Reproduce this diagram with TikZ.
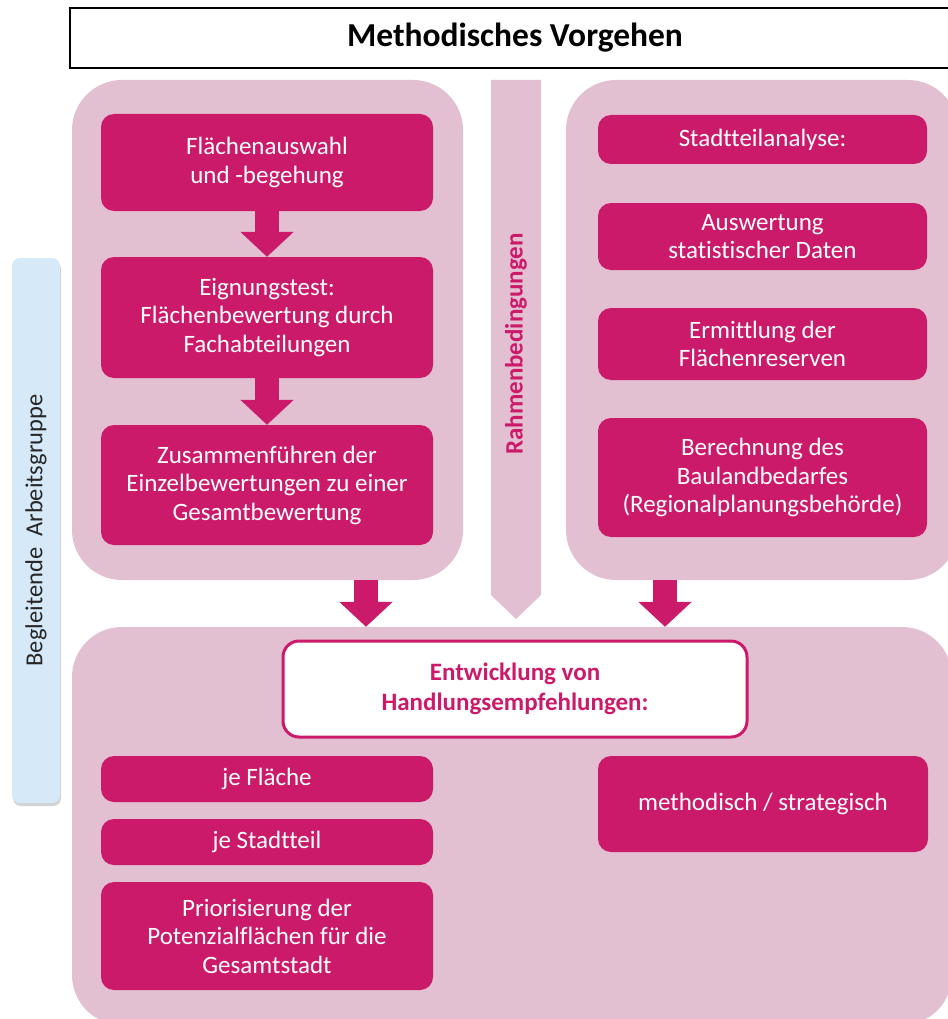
\documentclass[tikz,border=0pt]{standalone}
\usepackage{fontspec}
\setmainfont{Carlito}[Ligatures=NoCommon]
\usetikzlibrary{arrows.meta,shadows}

\definecolor{magentabox}{RGB}{204,26,106}
\definecolor{panelpink}{RGB}{226,192,209}
\definecolor{groupblue}{RGB}{214,233,248}

\begin{document}
\begin{tikzpicture}[x=1pt, y=-1pt,
    panel/.style={fill=panelpink, rounded corners=50pt, inner sep=0pt},
    stepbox/.style={fill=magentabox, text=white, rounded corners=13pt, align=center,
        inner sep=0pt, font=\fontsize{25}{28.5}\selectfont},
    blockarrow/.style={magentabox, line width=24pt, -{Triangle[length=25pt, width=52pt]}}]
  \useasboundingbox (0,0) rectangle (947,1019);

  % Title
  \node[draw=black, line width=1.6pt, minimum width=890pt, minimum height=60pt,
        font=\fontsize{33.5}{38}\selectfont\bfseries] (title) at (515,38) {Methodisches Vorgehen};

  % Panels
  \node[panel, minimum width=391pt, minimum height=500pt] (leftpanel) at (267.5,330) {};
  \node[panel, minimum width=392pt, minimum height=500pt] (rightpanel) at (762,330) {};
  \node[panel, minimum width=880pt, minimum height=398pt] (bottompanel) at (512,826) {};

  % Rahmenbedingungen
  \fill[panelpink] (491,80) -- (541,80) -- (541,595) -- (516,619) -- (491,595) -- cycle;
  \node[rotate=90, text=magentabox, font=\fontsize{25}{29}\selectfont\bfseries] (rahmen)
    at (516,344) {Rahmenbedingungen};

  % Begleitende Arbeitsgruppe
  \node[fill=groupblue, rounded corners=8pt, rotate=90, minimum width=545pt, minimum height=48pt,
        drop shadow={opacity=0.35, shadow xshift=1pt, shadow yshift=-3pt},
        text=black!85, font=\fontsize{24.5}{28}\selectfont] (gruppe)
    at (36,530.5) {Begleitende\ \ Arbeitsgruppe};

  % Left column
  \node[stepbox, minimum width=332pt, minimum height=97pt] (auswahl) at (267,162.5)
    {Flächenauswahl\\und -begehung};
  \node[stepbox, minimum width=332pt, minimum height=121pt] (eignung) at (267,317.5)
    {Eignungstest:\\Flächenbewertung durch\\Fachabteilungen};
  \node[stepbox, minimum width=332pt, minimum height=120pt] (zusammen) at (267,485)
    {Zusammenführen der\\Einzelbewertungen zu einer\\Gesamtbewertung};
  \draw[blockarrow] (auswahl) -- (eignung);
  \draw[blockarrow] (eignung) -- (zusammen);

  % Right column
  \node[stepbox, minimum width=329pt, minimum height=49pt] (stadtteil) at (762.5,139.5)
    {Stadtteilanalyse:};
  \node[stepbox, minimum width=329pt, minimum height=67pt] (statistik) at (762.5,236.5)
    {Auswertung\\statistischer Daten};
  \node[stepbox, minimum width=329pt, minimum height=72pt] (reserven) at (762.5,344)
    {Ermittlung der\\Flächenreserven};
  \node[stepbox, minimum width=329pt, minimum height=119pt] (bedarf) at (762.5,477.5)
    {Berechnung des\\Baulandbedarfes\\(Regionalplanungsbehörde)};

  % Arrows into the bottom panel
  \coordinate (leftout) at (366,580);
  \coordinate (rightout) at (665,580);
  \draw[blockarrow] (leftout) -- (leftout |- bottompanel.north);
  \draw[blockarrow] (rightout) -- (rightout |- bottompanel.north);

  % Handlungsempfehlungen
  \node[fill=white, draw=magentabox, line width=3pt, rounded corners=16pt, align=center,
        minimum width=464pt, minimum height=96pt, text=magentabox,
        font=\fontsize{25}{30}\selectfont\bfseries] (empfehlung) at (515,689)
    {Entwicklung von\\Handlungsempfehlungen:};
  \node[stepbox, minimum width=332pt, minimum height=46pt] (jeflaeche) at (267,779) {je Fläche};
  \node[stepbox, minimum width=332pt, minimum height=46pt] (jestadtteil) at (267,842) {je Stadtteil};
  \node[stepbox, minimum width=332pt, minimum height=108pt] (prio) at (267,936)
    {Priorisierung der\\Potenzialflächen für die\\Gesamtstadt};
  \node[stepbox, minimum width=330pt, minimum height=96pt] (methodisch) at (763,804)
    {methodisch / strategisch};
\end{tikzpicture}
\end{document}
